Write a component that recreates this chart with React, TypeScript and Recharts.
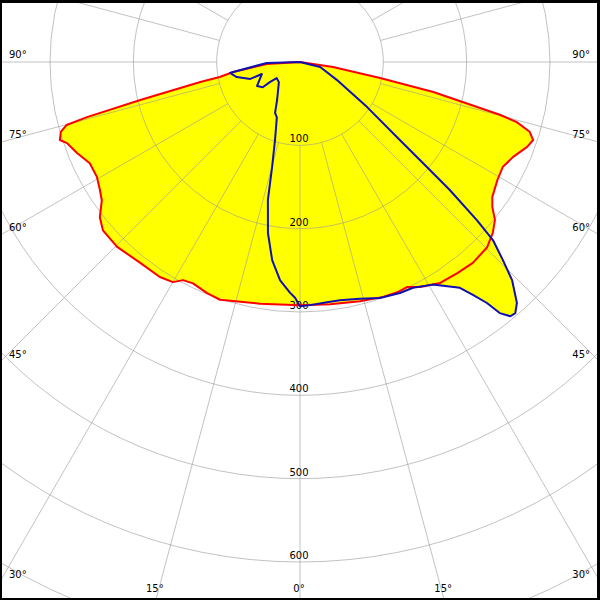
import React from "react";
import { RadarChart, Radar, PolarGrid, PolarAngleAxis, PolarRadiusAxis } from "recharts";

// ---- data (gamma in degrees from nadir: + = right half, - = left half; intensity in cd) ----
const RED_GAMMA = [0, 7.1, 14.1, 19.5, 22.9, 25.4, 28.1, 32.4, 36.7, 40.7, 45.3, 48.5, 51.0, 53.0, 54.9, 59.1, 62.6, 66.0, 69.5, 71.5, 73.1, 74.5, 75.2, 77.3, 78.7, 81.4, 90,
  -86.5, -81.5, -79.4, -78.7, -76.6, -75.5, -74.9, -73.7, -72.0, -70.8, -67.8, -64.3, -60.5, -57.4, -55.1, -52.2, -49.5, -44.7, -38.5, -33.1, -30.0, -28.2, -25.8, -21.9, -18.6, -9.4];
const RED_CD = [292, 293, 296, 299, 300, 299, 306, 314, 316, 318, 316, 309, 301, 289, 282, 276, 274, 280, 291, 295, 288, 270, 248, 164, 98, 40, 0,
  40, 81, 98, 122, 197, 264, 290, 299, 303, 296, 289, 280, 280, 285, 290, 304, 311, 312, 308, 308, 305, 297, 295, 299, 301, 294];

const BLUE_GAMMA = [0, 2.4, 6.4, 9.5, 14.2, 18.7, 23.4, 26.6, 30.8, 33.3, 35.3, 36.6, 37.8, 38.5, 39.6, 40.6, 42.0, 44.2, 45.7, 47.3, 48.2, 49.5, 50.4, 52.0, 56.1, 64.1, 76, 90,
  -88.3, -81.5, -81.1, -76.6, -71.2, -72.5, -60.8, -55.9, -56.3, -55.2, -46.4, -31.2, -26.1, -22.7, -17.8, -14.9, -13.1, -10.6, -8.0, -5.2, -2.5, -1.2, -0.5];
const BLUE_CD = [293, 292, 290, 290, 293, 299, 302, 303, 311, 322, 332, 348, 366, 385, 396, 397, 389, 365, 340, 315, 285, 236, 198, 152, 97, 49, 25, 0,
  40, 81, 85, 78, 63, 48, 59, 54, 43, 34, 35, 53, 68, 72, 98, 130, 170, 209, 240, 263, 277, 283, 289];

const ANGLE_TICKS = [0, 15, 30, 45, 60, 75, 90, 105, 120, 135, 150, 165, 180, 195, 210, 225, 240, 255, 270, 285, 300, 315, 330, 345];
const RADIUS_TICKS = [100, 200, 300, 400, 500, 600, 700, 800];
const RADIUS_LABELS = [100, 200, 300, 400, 500, 600];

const toRows = (g: number[], cd: number[]) => g.map((v, i) => ({ a: v < 0 ? 360 + v : v, cd: cd[i] }));
const RED = toRows(RED_GAMMA, RED_CD);
const BLUE = toRows(BLUE_GAMMA, BLUE_CD);
const GRID_ROWS = ANGLE_TICKS.map((a) => ({ a, cd: 400 }));

// ---- layout ----
const W = 600;
const H = 600;
const CX = 300;
const CY = 62;
const RMAX = 800;
const OUTER = 666.67;
const INNER = OUTER * (100 / RMAX);
const FONT = "DejaVu Sans";

const AngleTick = (props: any) => {
  const a = props.payload.value;
  const g = a > 180 ? a - 360 : a;
  if (Math.abs(g) > 90) return <g />;
  const rad = (g * Math.PI) / 180;
  const dx = Math.sin(rad);
  const dy = Math.cos(rad);
  let tSide = Infinity;
  if (dx > 1e-9) tSide = (W - CX) / dx;
  else if (dx < -1e-9) tSide = CX / -dx;
  const tBottom = dy > 1e-9 ? (H - CY) / dy : Infinity;
  const label = `${Math.abs(g)}°`;
  if (tBottom < tSide) {
    const x = CX + dx * tBottom;
    return (
      <text x={x - 1} y={H - 8} textAnchor="middle" fontFamily={FONT} fontSize={10} fill="#000">
        {label}
      </text>
    );
  }
  const yi = CY + dy * tSide;
  return (
    <text x={dx < 0 ? 9 : 590} y={yi - 4} textAnchor={dx < 0 ? "start" : "end"} fontFamily={FONT} fontSize={10} fill="#000">
      {label}
    </text>
  );
};

const RadiusTick = (props: any) => {
  const v = props.payload.value;
  if (!RADIUS_LABELS.includes(v)) return <g />;
  return (
    <text x={props.x - 1} y={props.y - 3} textAnchor="middle" fontFamily={FONT} fontSize={10} fill="#000">
      {v}
    </text>
  );
};

const layer: React.CSSProperties = { position: "absolute", left: 0, top: 0 };

const Series = ({ data, fill, stroke }: { data: any[]; fill: string; stroke: string }) => (
  <div style={layer}>
    <RadarChart width={W} height={H} data={data} cx={CX} cy={CY} outerRadius={OUTER} innerRadius={0} startAngle={-90} endAngle={270} margin={{ top: 0, right: 0, bottom: 0, left: 0 }}>
      <PolarAngleAxis dataKey="a" type="number" domain={[0, 360]} tick={false} axisLine={false} tickLine={false} />
      <PolarRadiusAxis domain={[0, RMAX]} tick={false} axisLine={false} tickLine={false} />
      <Radar dataKey="cd" fill={fill} fillOpacity={fill === "none" ? 0 : 1} stroke={stroke} strokeWidth={2} strokeLinejoin="round" dot={false} activeDot={false} isAnimationActive={false} />
    </RadarChart>
  </div>
);

export default function App() {
  return (
    <div style={{ position: "absolute", left: 0, top: 0, width: W, height: H, background: "#fff", overflow: "hidden" }}>
      <Series data={RED} fill="#FFFF00" stroke="none" />
      <Series data={BLUE} fill="#FFFF00" stroke="none" />
      <div style={layer}>
        <RadarChart width={W} height={H} data={GRID_ROWS} cx={CX} cy={CY} outerRadius={OUTER} innerRadius={INNER} startAngle={-90} endAngle={270} margin={{ top: 0, right: 0, bottom: 0, left: 0 }}>
          <PolarGrid gridType="circle" stroke="#999" strokeOpacity={0.6} />
          <PolarAngleAxis dataKey="a" type="number" domain={[0, 360]} ticks={ANGLE_TICKS} tick={<AngleTick />} axisLine={false} tickLine={false} />
          <PolarRadiusAxis angle={-90} domain={[100, RMAX]} ticks={RADIUS_TICKS} tickCount={8} tick={<RadiusTick />} axisLine={false} tickLine={false} />
          <Radar dataKey="cd" fill="none" stroke="none" dot={false} activeDot={false} isAnimationActive={false} />
        </RadarChart>
      </div>
      <Series data={RED} fill="none" stroke="#FF0000" />
      <Series data={BLUE} fill="none" stroke="#1010B0" />
      <div style={{ ...layer, width: W, height: H, boxSizing: "border-box", borderStyle: "solid", borderColor: "#000", borderWidth: "3px 3px 2px 2px", pointerEvents: "none" }} />
    </div>
  );
}
